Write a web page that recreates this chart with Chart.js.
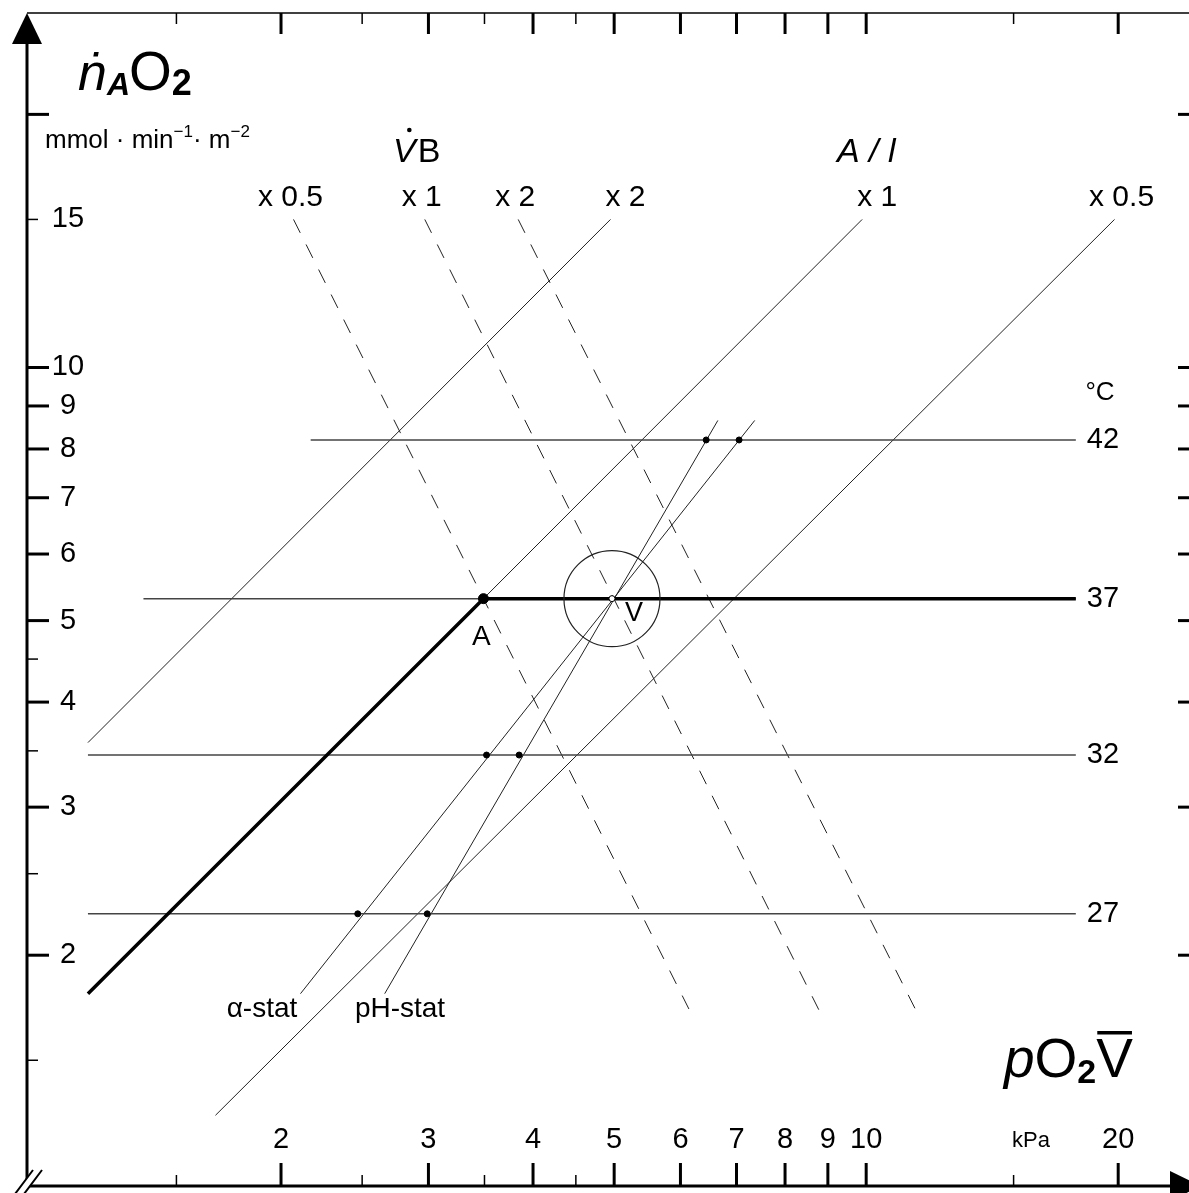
<!DOCTYPE html>
<html>
<head>
<meta charset="utf-8">
<script src="https://cdn.jsdelivr.net/npm/chart.js@4.4.0/dist/chart.umd.min.js"></script>
<style>
html, body { margin: 0; padding: 0; background: #fff; }
</style>
</head>
<body>
<canvas id="nomo" width="1189" height="1193"></canvas>
<script>
const xMajor = [2, 3, 4, 5, 6, 7, 8, 9, 10, 20];
const xMinor = [1.5, 2.5, 3.5, 4.5, 15];
const xTickLabels = ['2', '3', '4', '5', '6', '7', '8', '9', '10', '20'];
const yMajor = [2, 3, 4, 5, 6, 7, 8, 9, 10, 20];
const yMinor = [1.5, 2.5, 3.5, 4.5, 15];
const yLabelValues = [2, 3, 4, 5, 6, 7, 8, 9, 10, 15];

// Lineas de temperatura (°C)
const tempLabels = ['42', '37', '32', '27'];
const tempLevels = [8.2, 5.31, 3.46, 2.24];
const tempStart = [2.17, 1.37, 1.176, 1.176];
const tempEnd = [17.8, 17.8, 17.8, 17.8];

// A / l  (lineas solidas)
const arealLabels = ['x 2', 'x 1', 'x 0.5'];
const arealStart = [[1.176, 3.58], [3.49, 5.31], [1.67, 1.29]];
const arealEnd = [[4.95, 15], [9.89, 15], [19.8, 15]];

// V B  (lineas discontinuas)
const flowLabels = ['x 0.5', 'x 1', 'x 2'];
const flowStart = [[2.07, 15], [2.97, 15], [3.84, 15]];
const flowEnd = [[6.17, 1.71], [8.81, 1.71], [11.5, 1.71]];

// alfa-stat / pH-stat
const statLabels = ['α-stat', 'pH-stat'];
const statStart = [[2.11, 1.80], [2.66, 1.80]];
const statEnd = [[7.36, 8.65], [6.65, 8.65]];
const alphaDots = [[2.47, 2.24], [3.52, 3.46], [7.05, 8.2]];
const phDots = [[2.99, 2.24], [3.85, 3.46], [6.44, 8.2]];

// Linea gruesa y puntos A, V
const thickLine = [[1.176, 1.80], [3.49, 5.31], [17.8, 5.31]];
const pointA = [3.49, 5.31];
const pointV = [4.97, 5.31];

const FONT = '"Liberation Sans", Arial, sans-serif';
const pt = p => ({ x: p[0], y: p[1] });

function seg(a, b, opts) {
    return Object.assign({
        type: 'scatter',
        data: [pt(a), pt(b)],
        showLine: true,
        pointRadius: 0,
        borderColor: '#222',
        borderWidth: 1,
        order: 5
    }, opts || {});
}

const datasets = [];

// puntos (encima)
datasets.push({ type: 'scatter', data: [pt(pointA)], pointRadius: 5, backgroundColor: '#000', borderColor: '#000', order: 1 });
datasets.push({ type: 'scatter', data: alphaDots.concat(phDots).map(pt), pointRadius: 3, backgroundColor: '#000', borderColor: '#000', order: 1 });
datasets.push({ type: 'scatter', data: [pt(pointV)], pointRadius: 3, backgroundColor: '#fff', borderColor: '#000', borderWidth: 1, order: 1 });
// circulo alrededor de V
datasets.push({ type: 'scatter', data: [pt(pointV)], pointRadius: 48, backgroundColor: 'rgba(0,0,0,0)', borderColor: '#222', borderWidth: 1.2, order: 2 });

datasets.push({
    type: 'scatter', data: thickLine.map(pt), showLine: true, pointRadius: 0,
    borderColor: '#000', borderWidth: 3.5, order: 3
});

tempLevels.forEach((lv, i) => {
    datasets.push(seg([tempStart[i], lv], [tempEnd[i], lv], { borderColor: '#444', borderWidth: 1.5 }));
});
arealStart.forEach((s, i) => datasets.push(seg(s, arealEnd[i])));
flowStart.forEach((s, i) => datasets.push(seg(s, flowEnd[i], { borderDash: [15, 13] })));
statStart.forEach((s, i) => datasets.push(seg(s, statEnd[i])));

function runs(ctx, x, y, parts) {
    let cx = x;
    parts.forEach(p => {
        ctx.font = p.font;
        ctx.fillText(p.t, cx, y + (p.dy || 0));
        p.x0 = cx;
        p.w = ctx.measureText(p.t).width;
        cx += p.w + (p.gap || 0);
    });
    return parts;
}

const nomoPlugin = {
    id: 'nomo',
    afterDraw(chart) {
        const { ctx, chartArea: a, scales: { x, y } } = chart;
        const L = a.left - 2, B = a.bottom, T = a.top, R = a.right + 10;
        ctx.save();
        ctx.strokeStyle = '#000';
        ctx.fillStyle = '#000';
        ctx.lineCap = 'butt';

        // marco
        ctx.lineWidth = 3;
        ctx.beginPath();
        ctx.moveTo(L, B); ctx.lineTo(L, T + 20);
        ctx.moveTo(L, B); ctx.lineTo(1175, B);
        ctx.stroke();
        ctx.lineWidth = 1.5;
        ctx.beginPath();
        ctx.moveTo(L, T); ctx.lineTo(R, T);
        ctx.stroke();

        // flechas
        ctx.beginPath();
        ctx.moveTo(L, T); ctx.lineTo(L - 15, T + 31); ctx.lineTo(L + 15, T + 31); ctx.closePath();
        ctx.fill();
        ctx.beginPath();
        ctx.moveTo(1201, B); ctx.lineTo(1170, B - 15); ctx.lineTo(1170, B + 15); ctx.closePath();
        ctx.fill();

        // marcas
        const tick = (x1, y1, x2, y2, w) => {
            ctx.lineWidth = w;
            ctx.beginPath(); ctx.moveTo(x1, y1); ctx.lineTo(x2, y2); ctx.stroke();
        };
        xMajor.forEach(v => {
            const px = x.getPixelForValue(v);
            tick(px, B, px, B - 23, 3);
            tick(px, T, px, T + 21, 3);
        });
        xMinor.forEach(v => {
            const px = x.getPixelForValue(v);
            tick(px, B, px, B - 11, 1.5);
            tick(px, T, px, T + 11, 1.5);
        });
        yMajor.forEach(v => {
            const py = y.getPixelForValue(v);
            tick(L, py, L + 22, py, 3);
            tick(R, py, R - 21, py, 3);
        });
        yMinor.forEach(v => {
            const py = y.getPixelForValue(v);
            tick(L, py, L + 11, py, 1.5);
            tick(R, py, R - 10, py, 1.5);
        });

        // corte del eje
        ctx.fillStyle = '#fff';
        ctx.beginPath();
        ctx.moveTo(16, 1193); ctx.lineTo(33, 1170); ctx.lineTo(42, 1170); ctx.lineTo(25, 1193); ctx.closePath();
        ctx.fill();
        ctx.lineWidth = 2;
        ctx.beginPath();
        ctx.moveTo(15, 1194); ctx.lineTo(33, 1170);
        ctx.moveTo(24, 1194); ctx.lineTo(42, 1170);
        ctx.stroke();
        ctx.fillStyle = '#000';

        // etiquetas de ejes
        ctx.textAlign = 'center';
        ctx.textBaseline = 'middle';
        ctx.font = '29px ' + FONT;
        xMajor.forEach((v, i) => ctx.fillText(xTickLabels[i], x.getPixelForValue(v), 1140));
        yLabelValues.forEach(v => ctx.fillText(String(v), 68, y.getPixelForValue(v)));

        // temperaturas
        tempLevels.forEach((lv, i) => ctx.fillText(tempLabels[i], 1103, y.getPixelForValue(lv)));
        ctx.font = '26px ' + FONT;
        ctx.fillText('°C', 1100, 393);

        // etiquetas de lineas
        ctx.font = '30px ' + FONT;
        flowEnd.forEach((e, i) => ctx.fillText(flowLabels[i], x.getPixelForValue(flowStart[i][0]) - 3, 198));
        const arealOff = [15, 15, 7];
        arealEnd.forEach((e, i) => ctx.fillText(arealLabels[i], x.getPixelForValue(e[0]) + arealOff[i], 198));

        ctx.font = '28px ' + FONT;
        ctx.fillText('A', x.getPixelForValue(pointA[0]) - 2, 637);
        ctx.font = '27px ' + FONT;
        ctx.fillText('V', x.getPixelForValue(pointV[0]) + 22, 614);
        ctx.font = '28px ' + FONT;
        ctx.fillText(statLabels[0], 262, 1009);
        ctx.fillText(statLabels[1], 400, 1009);

        ctx.font = '22px ' + FONT;
        ctx.fillText('kPa', 1031, 1141);

        // titulos
        ctx.textAlign = 'left';
        ctx.textBaseline = 'alphabetic';
        runs(ctx, 78, 90, [
            { t: 'ṅ', font: 'italic 52px ' + FONT },
            { t: 'A', font: 'bold italic 32px ' + FONT, dy: 5, gap: -1 },
            { t: 'O', font: '55px ' + FONT },
            { t: '2', font: 'bold 36px ' + FONT, dy: 5 }
        ]);
        runs(ctx, 45, 148, [
            { t: 'mmol · min', font: '26px ' + FONT },
            { t: '−1', font: '17px ' + FONT, dy: -11 },
            { t: '· m', font: '26px ' + FONT },
            { t: '−2', font: '17px ' + FONT, dy: -11 }
        ]);
        const vb = runs(ctx, 393, 162, [
            { t: 'V', font: 'italic 34px ' + FONT, gap: 2 },
            { t: 'B', font: '34px ' + FONT }
        ]);
        ctx.beginPath();
        ctx.arc(vb[0].x0 + vb[0].w * 0.72, 130, 2.3, 0, Math.PI * 2);
        ctx.fill();
        runs(ctx, 837, 162, [
            { t: 'A / l', font: 'italic 34px ' + FONT }
        ]);
        const po = runs(ctx, 1004, 1077, [
            { t: 'p', font: 'italic 55px ' + FONT },
            { t: 'O', font: '55px ' + FONT },
            { t: '2', font: 'bold 34px ' + FONT, dy: 6 },
            { t: 'V', font: '55px ' + FONT }
        ]);
        ctx.fillRect(po[3].x0 + 1, 1031, po[3].w - 2, 3.5);

        ctx.restore();
    }
};

new Chart(document.getElementById('nomo'), {
    type: 'scatter',
    data: { datasets: datasets },
    options: {
        responsive: false,
        animation: false,
        devicePixelRatio: 1,
        layout: { autoPadding: false, padding: { left: 29, top: 13, right: 0, bottom: 7 } },
        scales: {
            x: { type: 'logarithmic', min: 1, max: 24.3, display: false },
            y: { type: 'logarithmic', min: 1.063, max: 26.4, display: false }
        },
        plugins: {
            legend: { display: false },
            tooltip: { enabled: false }
        }
    },
    plugins: [nomoPlugin]
});
</script>
</body>
</html>
